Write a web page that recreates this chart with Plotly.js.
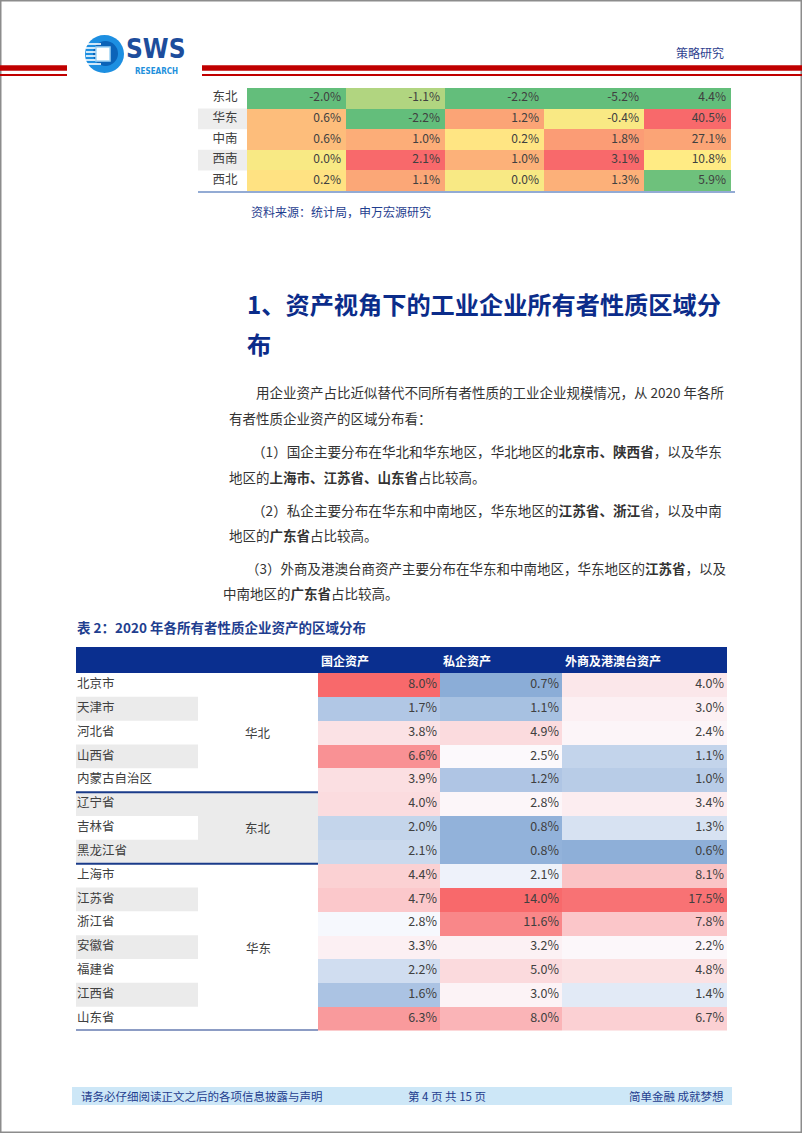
<!DOCTYPE html>
<html>
<head>
<meta charset="utf-8">
<script src="https://cdn.plot.ly/plotly-3.0.1.min.js"></script>
<style>
  html, body { margin: 0; padding: 0; background: #fff; }
  #page { width: 802px; height: 1133px; }
</style>
</head>
<body>
<div id="page"></div>
<script>
// ---- data: top table (regional changes, header cut off at page top)
var topRegions = ['东北', '华东', '中南', '西南', '西北'];
var topCol1 = [-2.0, 0.6, 0.6, 0.0, 0.2];
var topCol2 = [-1.1, -2.2, 1.0, 2.1, 1.1];
var topCol3 = [-2.2, 1.2, 0.2, 1.0, 0.0];
var topCol4 = [-5.2, -0.4, 1.8, 3.1, 1.3];
var topCol5 = [4.4, 40.5, 27.1, 10.8, 5.9];

// ---- data: table 2
var provinces = ['北京市', '天津市', '河北省', '山西省', '内蒙古自治区', '辽宁省', '吉林省', '黑龙江省',
  '上海市', '江苏省', '浙江省', '安徽省', '福建省', '江西省', '山东省'];
var regions = ['华北', '东北', '华东'];
var regionSizes = [5, 3, 7];
var owners = ['国企资产', '私企资产', '外商及港澳台资产'];
var stateShare = [8.0, 1.7, 3.8, 6.6, 3.9, 4.0, 2.0, 2.1, 4.4, 4.7, 2.8, 3.3, 2.2, 1.6, 6.3];
var privateShare = [0.7, 1.1, 4.9, 2.5, 1.2, 2.8, 0.8, 0.8, 2.1, 14.0, 11.6, 3.2, 5.0, 3.0, 8.0];
var foreignShare = [4.0, 3.0, 2.4, 1.1, 1.0, 3.4, 1.3, 0.6, 8.1, 17.5, 7.8, 2.2, 4.8, 1.4, 6.7];

// ---- page geometry / styles
var W = 802, H = 1133;
var CJK = '"Noto Sans CJK SC", sans-serif';
var LOGO_FONT = '"DejaVu Sans Condensed", "Liberation Sans", sans-serif';
var NAVY = '#1F3E8F';
var G = '#63BE7B', Y = '#FFEB84', R = '#F8696B';
var B = '#5A8AC6', WH = '#FCFCFF';

var topEdges = [247, 346, 445, 544, 644, 731];
var tabEdges = [318, 440, 562, 727];

// colour stops per column [value, colour] (conditional formatting)
var topStops = [
  [[-2.0, G], [0.1, Y], [1.5, R]],
  [[-2.2, G], [0.0, Y], [2.1, R]],
  [[-2.2, G], [0.1, Y], [2.1, R]],
  [[-5.2, G], [-0.2, Y], [3.1, R]],
  [[4.4, G], [5.9, '#6EC17C'], [10.8, Y], [40.5, R]]
];
var tabStops = [
  [[0.3, B], [2.9, WH], [8.0, R]],
  [[0.0, B], [2.3, WH], [14.0, R]],
  [[0.1, B], [1.65, WH], [18.5, R]]
];

function px(x) { return x / W; }
function py(y) { return 1 - y / H; }
function pct(v) { return v.toFixed(1) + '%'; }
function scaleFrom(stops) {
  var lo = stops[0][0], hi = stops[stops.length - 1][0];
  return {
    zmin: lo, zmax: hi,
    colorscale: stops.map(function (s) { return [(s[0] - lo) / (hi - lo), s[1]]; })
  };
}

var data = [];

// top table columns
var topCols = [topCol1, topCol2, topCol3, topCol4, topCol5];
topCols.forEach(function (col, i) {
  var sc = scaleFrom(topStops[i]);
  data.push({
    type: 'heatmap', xaxis: 'x', yaxis: 'y',
    x: [topEdges[i], topEdges[i + 1]], y: topRegions,
    z: col.map(function (v) { return [v]; }),
    zmin: sc.zmin, zmax: sc.zmax, colorscale: sc.colorscale,
    showscale: false, hoverinfo: 'skip'
  });
  data.push({
    type: 'scatter', mode: 'text', xaxis: 'x', yaxis: 'y',
    x: col.map(function () { return topEdges[i + 1] - 5; }), y: topRegions,
    text: col.map(pct), textposition: 'middle left',
    textfont: { family: CJK, size: 12, color: '#404040' },
    hoverinfo: 'skip', cliponaxis: false
  });
});
data.push({
  type: 'scatter', mode: 'text', xaxis: 'x', yaxis: 'y',
  x: topRegions.map(function () { return 225; }), y: topRegions,
  text: topRegions, textposition: 'middle center',
  textfont: { family: CJK, size: 12.5, color: '#404040' },
  hoverinfo: 'skip', cliponaxis: false
});

// table 2 columns
var tabCols = [stateShare, privateShare, foreignShare];
tabCols.forEach(function (col, i) {
  var sc = scaleFrom(tabStops[i]);
  data.push({
    type: 'heatmap', xaxis: 'x2', yaxis: 'y2',
    x: [tabEdges[i], tabEdges[i + 1]], y: provinces,
    z: col.map(function (v) { return [v]; }),
    zmin: sc.zmin, zmax: sc.zmax, colorscale: sc.colorscale,
    showscale: false, hoverinfo: 'skip'
  });
  data.push({
    type: 'scatter', mode: 'text', xaxis: 'x2', yaxis: 'y2',
    x: col.map(function () { return tabEdges[i + 1] - 3; }), y: provinces,
    text: col.map(pct), textposition: 'middle left',
    textfont: { family: CJK, size: 12.5, color: '#404040' },
    hoverinfo: 'skip', cliponaxis: false
  });
});
data.push({
  type: 'scatter', mode: 'text', xaxis: 'x2', yaxis: 'y2',
  x: provinces.map(function () { return 77; }), y: provinces,
  text: provinces, textposition: 'middle right',
  textfont: { family: CJK, size: 12.5, color: '#404040' },
  hoverinfo: 'skip', cliponaxis: false
});

// ---- shapes
var shapes = [];
// page frame
shapes.push({ type: 'rect', xref: 'paper', yref: 'paper', x0: px(0.5), x1: px(801.5), y0: py(1132.5), y1: py(0.5),
  line: { color: '#8C8C8C', width: 2 } });
// header red rules
[[0, 67], [202, 802]].forEach(function (seg) {
  shapes.push({ type: 'line', xref: 'paper', yref: 'paper', x0: px(seg[0]), x1: px(seg[1]), y0: py(68), y1: py(68),
    line: { color: '#C00000', width: 5.5 } });
  shapes.push({ type: 'line', xref: 'paper', yref: 'paper', x0: px(seg[0]), x1: px(seg[1]), y0: py(75), y1: py(75),
    line: { color: '#C00000', width: 2 } });
});
// logo
shapes.push({ type: 'circle', xref: 'paper', yref: 'paper', x0: px(85), x1: px(124), y0: py(73), y1: py(35),
  fillcolor: '#1D8FE1', line: { width: 0 } });
shapes.push({ type: 'circle', xref: 'paper', yref: 'paper', x0: px(93), x1: px(118), y0: py(66), y1: py(41),
  fillcolor: '#0B63B8', line: { width: 0 } });
[44, 48, 52, 56, 60, 64].forEach(function (y) {
  shapes.push({ type: 'line', xref: 'paper', yref: 'paper', x0: px(86), x1: px(101), y0: py(y), y1: py(y),
    line: { color: '#FFFFFF', width: 1.6 } });
});
shapes.push({ type: 'rect', xref: 'paper', yref: 'paper', x0: px(96), x1: px(110), y0: py(61), y1: py(47),
  fillcolor: '#FFFFFF', line: { color: '#9FD3F5', width: 1.5 } });

// top table: grey label rows and bottom rule
[1, 3].forEach(function (i) {
  shapes.push({ type: 'rect', xref: 'x', yref: 'y', x0: 198, x1: topEdges[0], y0: i - 0.5, y1: i + 0.5,
    fillcolor: '#EDEDED', line: { width: 0 }, layer: 'below' });
});
shapes.push({ type: 'line', xref: 'paper', yref: 'paper', x0: px(198), x1: px(735), y0: py(192), y1: py(192),
  line: { color: '#6F8FC6', width: 1.5 } });

// table 2 header band
shapes.push({ type: 'rect', xref: 'paper', yref: 'paper', x0: px(76), x1: px(727), y0: py(673), y1: py(647),
  fillcolor: '#0A2F8F', line: { width: 0 } });
// zebra stripes in province column
provinces.forEach(function (p, i) {
  if (i % 2 === 1) {
    shapes.push({ type: 'rect', xref: 'x2', yref: 'y2', x0: 76, x1: 198, y0: i - 0.5, y1: i + 0.5,
      fillcolor: '#EBEBEB', line: { width: 0 }, layer: 'below' });
  }
});
// region cells, separators
var annotations = [];
var start = 0;
regions.forEach(function (r, k) {
  var n = regionSizes[k];
  if (start % 2 === 1) {
    shapes.push({ type: 'rect', xref: 'x2', yref: 'y2', x0: 198, x1: tabEdges[0], y0: start - 0.5, y1: start + n - 0.5,
      fillcolor: '#EBEBEB', line: { width: 0 }, layer: 'below' });
  }
  shapes.push({ type: 'line', xref: 'x2', yref: 'y2', x0: 76, x1: tabEdges[0], y0: start + n - 0.5, y1: start + n - 0.5,
    line: { color: '#1A3B8A', width: 2 } });
  annotations.push({ xref: 'x2', yref: 'y2', x: 258, y: start + (n - 1) / 2, text: r, showarrow: false,
    xanchor: 'center', yanchor: 'middle', font: { family: CJK, size: 12.5, color: '#404040' } });
  start += n;
});
// footer band
shapes.push({ type: 'rect', xref: 'paper', yref: 'paper', x0: px(72), x1: px(732), y0: py(1105), y1: py(1087),
  fillcolor: '#CDE7F7', line: { width: 0 } });

// ---- text annotations
function txt(x, y, s, size, color, anchor, extra) {
  var a = { xref: 'paper', yref: 'paper', x: px(x), y: py(y), text: s, showarrow: false,
    xanchor: anchor || 'left', yanchor: 'middle', font: { family: CJK, size: size, color: color } };
  if (extra) for (var k in extra) a[k] = extra[k];
  annotations.push(a);
}
txt(156, 65, '<b>SWS</b>', 25, '#1D4D9C', 'center',
  { yanchor: 'bottom', borderpad: 0, font: { family: LOGO_FONT, size: 26, color: '#1D4D9C' } });
txt(156, 65.5, '<b>RESEARCH</b>', 8, '#1E90DC', 'center',
  { yanchor: 'top', borderpad: 0, font: { family: LOGO_FONT, size: 8, color: '#1E90DC' } });
txt(726, 52, '策略研究', 12, '#2F3F8F', 'right');

txt(249, 211, '资料来源：统计局，申万宏源研究', 12, NAVY);
txt(245, 303, '<b>1、资产视角下的工业企业所有者性质区域分</b>', 24.2, '#0B2C8A');
txt(245, 344, '<b>布</b>', 24.2, '#0B2C8A');

var body = '#333333';
txt(254, 392, '用企业资产占比近似替代不同所有者性质的工业企业规模情况，从 2020 年各所', 13.5, body);
txt(227, 418, '有者性质企业资产的区域分布看：', 13.5, body);
txt(250, 451, '（1）国企主要分布在华北和华东地区，华北地区的<b>北京市、陕西省</b>，以及华东', 13.6, body);
txt(227, 477, '地区的<b>上海市、江苏省、山东省</b>占比较高。', 13.5, body);
txt(250, 510, '（2）私企主要分布在华东和中南地区，华东地区的<b>江苏省、浙江</b>省，以及中南', 13.6, body);
txt(227, 535, '地区的<b>广东省</b>占比较高。', 13.5, body);
txt(244, 568, '（3）外商及港澳台商资产主要分布在华东和中南地区，华东地区的<b>江苏省</b>，以及', 13.5, body);
txt(221, 593, '中南地区的<b>广东省</b>占比较高。', 13.5, body);

txt(75, 627, '<b>表 2：2020 年各所有者性质企业资产的区域分布</b>', 13.5, NAVY);
owners.forEach(function (o, i) {
  annotations.push({ xref: 'x2', yref: 'paper', x: tabEdges[i] + 1, y: py(660), text: '<b>' + o + '</b>',
    showarrow: false, xanchor: 'left', yanchor: 'middle', font: { family: CJK, size: 12, color: '#FFFFFF' } });
});

txt(79, 1096, '请务必仔细阅读正文之后的各项信息披露与声明', 11.5, NAVY);
txt(447, 1096, '第 4 页 共 15 页', 11.5, NAVY, 'center');
txt(726, 1096, '简单金融 成就梦想', 11.5, NAVY, 'right');

var layout = {
  width: W, height: H, autosize: false,
  margin: { l: 0, r: 0, t: 0, b: 0, pad: 0 },
  paper_bgcolor: '#FFFFFF', plot_bgcolor: 'rgba(0,0,0,0)',
  showlegend: false,
  xaxis: { domain: [0, 1], range: [0, W], visible: false, fixedrange: true, anchor: 'y' },
  yaxis: { domain: [py(191), py(88)], type: 'category', categoryorder: 'array', categoryarray: topRegions,
    range: [topRegions.length - 0.5, -0.5], visible: false, fixedrange: true, anchor: 'x' },
  xaxis2: { domain: [0, 1], range: [0, W], visible: false, fixedrange: true, anchor: 'y2' },
  yaxis2: { domain: [py(1030.5), py(673)], type: 'category', categoryorder: 'array', categoryarray: provinces,
    range: [provinces.length - 0.5, -0.5], visible: false, fixedrange: true, anchor: 'x2' },
  shapes: shapes,
  annotations: annotations
};

Plotly.newPlot('page', data, layout, { displayModeBar: false, staticPlot: true });
</script>
</body>
</html>
